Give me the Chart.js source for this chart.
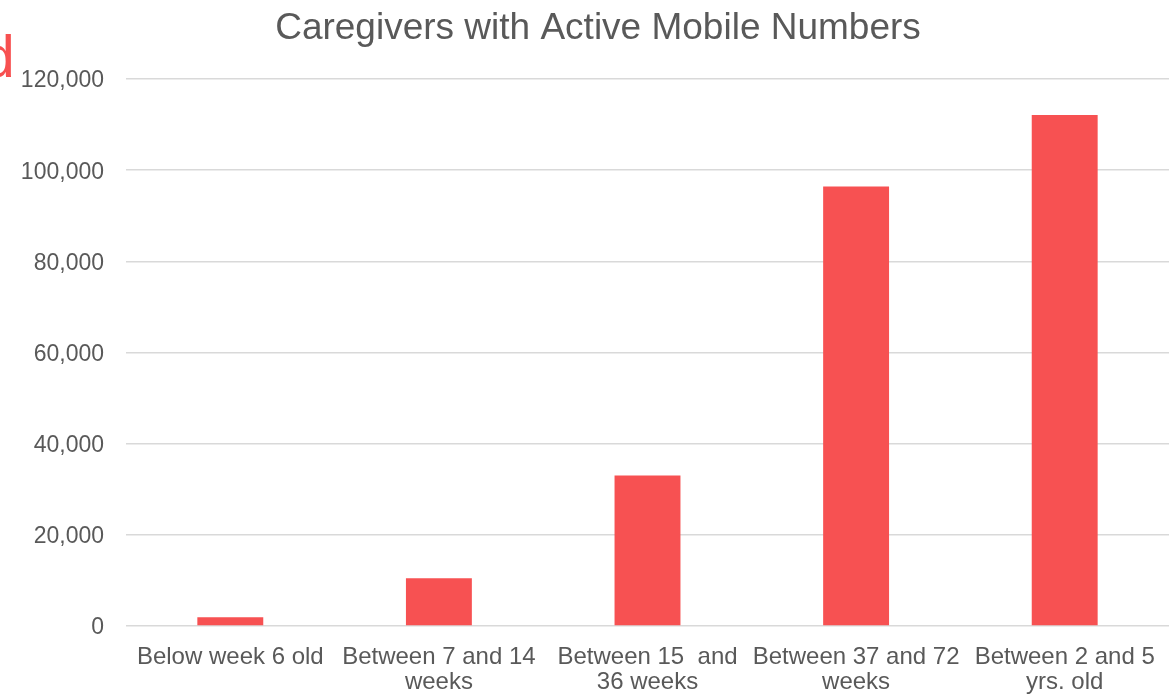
<!DOCTYPE html>
<html>
<head>
<meta charset="utf-8">
<title>Caregivers with Active Mobile Numbers</title>
<script src="https://cdn.jsdelivr.net/npm/chart.js@4.4.1/dist/chart.umd.min.js"></script>
<style>
	html, body { margin: 0; padding: 0; background: #ffffff; }
	#wrap { position: relative; width: 1171px; height: 695px; }
</style>
</head>
<body>
<div id="wrap"><canvas id="chart"></canvas></div>
<script>
const chartTitle = "Caregivers with Active Mobile Numbers";
const categories = [
	["Below week 6 old"],
	["Between 7 and 14", "weeks"],
	["Between 15  and", "36 weeks"],
	["Between 37 and 72", "weeks"],
	["Between 2 and 5", "yrs. old"]
];
const caregivers = [1900, 10500, 33000, 96400, 112100];
const yTicks = [0, 20000, 40000, 60000, 80000, 100000, 120000];

const textColor = "#595959";
const barColor = "#f75152";

// title sits a little right of the canvas centre, and a red letter
// from a neighbouring text box is clipped at the left edge
const titlePlugin = {
	id: "titleText",
	afterDraw (chart) {
		const ctx = chart.ctx;
		ctx.save();
		ctx.fillStyle = textColor;
		ctx.font = "37px 'Liberation Sans', Arial, sans-serif";
		ctx.textAlign = "center";
		ctx.textBaseline = "alphabetic";
		ctx.fillText(chartTitle, 598, 39);
		ctx.fillStyle = "#f75050";
		ctx.font = "59px 'Liberation Sans', Arial, sans-serif";
		ctx.textAlign = "left";
		ctx.fillText("d", -18, 77);
		ctx.restore();
	}
};

new Chart(document.getElementById("chart"), {
	type: "bar",
	data: {
		labels: categories,
		datasets: [{
			label: chartTitle,
			data: caregivers,
			backgroundColor: barColor,
			borderWidth: 0,
			categoryPercentage: 1,
			barPercentage: 0.316
		}]
	},
	options: {
		responsive: true,
		maintainAspectRatio: false,
		animation: false,
		layout: { padding: { top: 79, right: 2, left: 0, bottom: 0 } },
		plugins: {
			legend: { display: false },
			tooltip: { enabled: false },
			title: { display: false }
		},
		scales: {
			x: {
				grid: { display: false, drawTicks: false },
				border: { display: false },
				ticks: {
					color: textColor,
					font: { family: "'Liberation Sans', Arial, sans-serif", size: 24, lineHeight: 1.04 },
					padding: 19,
					maxRotation: 0,
					autoSkip: false
				},
				afterFit (scale) {
					scale.height = 69;
					scale.paddingLeft = 0;
					scale.paddingRight = 0;
				}
			},
			y: {
				min: 0,
				max: 120000,
				grid: { color: "#d9d9d9", lineWidth: 1.5, drawTicks: false },
				border: { display: false },
				afterBuildTicks (scale) { scale.ticks = yTicks.map((v) => ({ value: v })); },
				ticks: {
					color: textColor,
					font: { family: "'Liberation Sans', Arial, sans-serif", size: 23 },
					padding: 22,
					labelOffset: 2,
					callback: (v) => v.toLocaleString("en-US")
				},
				afterFit (scale) {
					scale.width = 126;
					scale.paddingTop = 0;
					scale.paddingBottom = 0;
				}
			}
		}
	},
	plugins: [titlePlugin]
});
</script>
</body>
</html>
